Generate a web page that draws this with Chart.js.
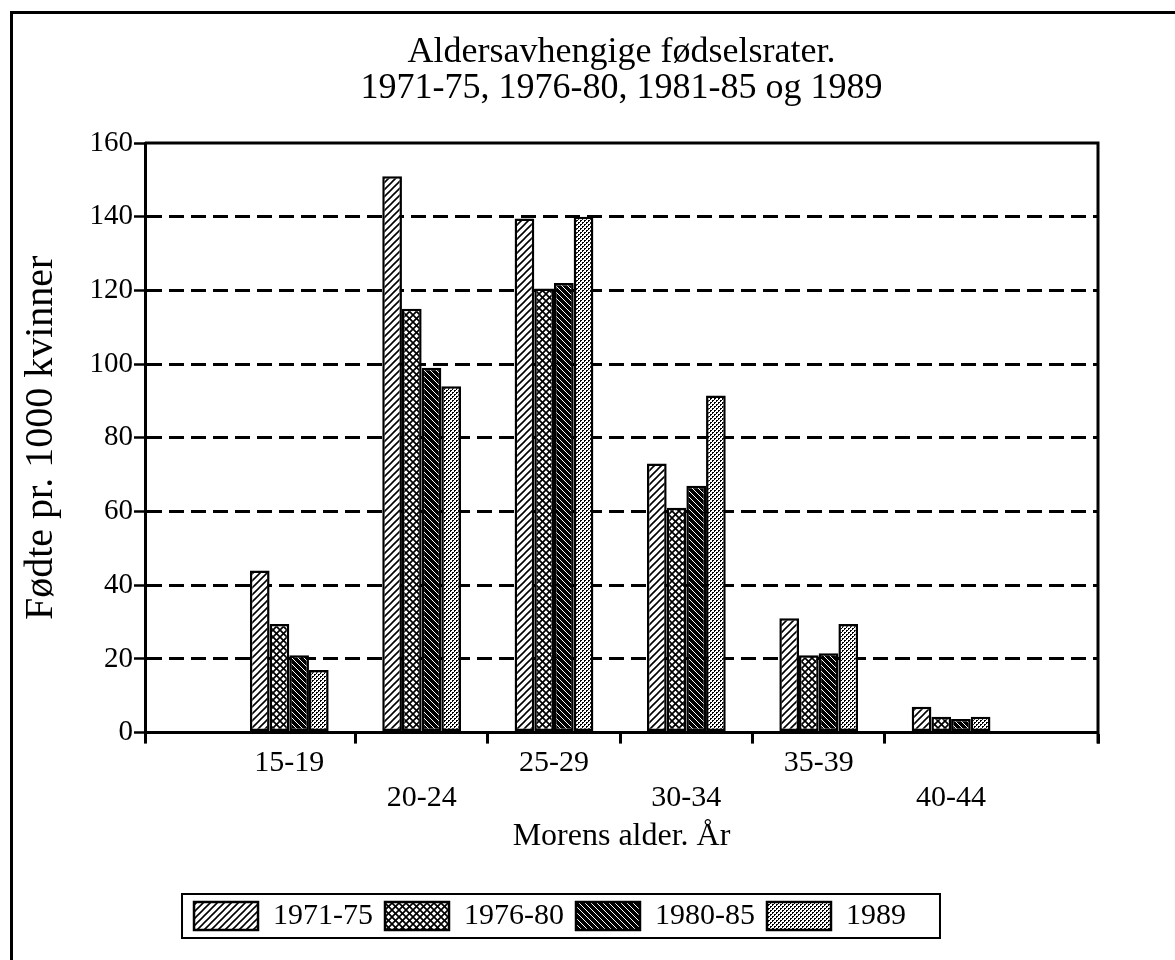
<!DOCTYPE html>
<html>
<head>
<meta charset="utf-8">
<script src="https://cdn.jsdelivr.net/npm/chart.js@4.4.0/dist/chart.umd.min.js"></script>
<style>
  html, body { margin: 0; padding: 0; background: #fff; }
</style>
</head>
<body>
<canvas id="chart" width="1175" height="960"></canvas>
<script>
const ageGroups = ['15-19', '20-24', '25-29', '30-34', '35-39', '40-44'];
const periods = ['1971-75', '1976-80', '1980-85', '1989'];
const rates7175 = [44, 151, 139.5, 73, 31, 7];
const rates7680 = [29.5, 115, 120.5, 61, 21, 4.3];
const rates8085 = [21, 99, 122, 67, 21.5, 3.7];
const rates89 = [17, 94, 140, 91.5, 29.5, 4.3];
const yMax = 160;
const yStep = 20;

const canvas = document.getElementById('chart');
const ctx = canvas.getContext('2d');

// small tiles for the black/white fill patterns
function makeTile(size, draw) {
  const t = document.createElement('canvas');
  t.width = size;
  t.height = size;
  const c = t.getContext('2d');
  draw(c, size);
  return ctx.createPattern(t, 'repeat');
}

function diag(c, s, up) {
  c.beginPath();
  if (up) {
    c.moveTo(0, s); c.lineTo(s, 0);
    c.moveTo(-1, 1); c.lineTo(1, -1);
    c.moveTo(s - 1, s + 1); c.lineTo(s + 1, s - 1);
  } else {
    c.moveTo(0, 0); c.lineTo(s, s);
    c.moveTo(s - 1, -1); c.lineTo(s + 1, 1);
    c.moveTo(-1, s - 1); c.lineTo(1, s + 1);
  }
  c.stroke();
}

const hatch = makeTile(7, (c, s) => {
  c.fillStyle = '#fff'; c.fillRect(0, 0, s, s);
  c.strokeStyle = '#000'; c.lineWidth = 1.6;
  diag(c, s, true);
});
const cross = makeTile(7, (c, s) => {
  c.fillStyle = '#fff'; c.fillRect(0, 0, s, s);
  c.strokeStyle = '#000'; c.lineWidth = 1.7;
  diag(c, s, true);
  diag(c, s, false);
});
const dark = makeTile(6, (c, s) => {
  c.fillStyle = '#000'; c.fillRect(0, 0, s, s);
  c.strokeStyle = '#fff'; c.lineWidth = 1;
  diag(c, s, false);
});
const dots = makeTile(4, (c, s) => {
  c.fillStyle = '#fff'; c.fillRect(0, 0, s, s);
  c.fillStyle = '#000';
  c.fillRect(0, 0, 2, 1); c.fillRect(0, 1, 1, 1);
  c.fillRect(2, 2, 2, 1); c.fillRect(2, 3, 1, 1);
});

const fills = [hatch, cross, dark, dots];
const series = [rates7175, rates7680, rates8085, rates89];

const xMin = -0.09;
const xMax = 7.11;

const framePlugin = {
  id: 'frame',
  beforeDraw(chart) {
    const c = chart.ctx;
    c.save();
    c.fillStyle = '#fff';
    c.fillRect(0, 0, chart.width, chart.height);
    c.restore();
  },
  afterDraw(chart) {
    const c = chart.ctx;
    const a = chart.chartArea;
    c.save();
    c.strokeStyle = '#000';
    c.lineWidth = 3;
    // outer border (only top and left visible)
    c.strokeRect(11.5, 12.5, chart.width + 20, chart.height + 20);
    // top and right side of the plot box
    c.beginPath();
    c.moveTo(a.left, a.top);
    c.lineTo(a.right, a.top);
    c.lineTo(a.right, a.bottom + 11);
    c.stroke();
    // box round the legend
    const hb = chart.legend.legendHitBoxes;
    if (hb && hb.length) {
      const l = Math.min(...hb.map(h => h.left));
      const r = Math.max(...hb.map(h => h.left + h.width));
      const t = Math.min(...hb.map(h => h.top));
      const b = Math.max(...hb.map(h => h.top + h.height));
      c.lineWidth = 2;
      c.strokeRect(l - 12, t - 7, r - l + 46, b - t + 14);
    }
    c.restore();
  }
};

Chart.defaults.font.family = "'Liberation Serif', 'Times New Roman', serif";
Chart.defaults.color = '#000';

new Chart(ctx, {
  type: 'bar',
  data: {
    datasets: periods.map((p, k) => ({
      label: p,
      data: series[k].map((v, i) => ({ x: i + 1, y: v })),
      backgroundColor: fills[k],
      borderColor: '#000',
      borderWidth: 2.5,
      borderSkipped: false,
      categoryPercentage: 1.19,
      barPercentage: 1
    }))
  },
  options: {
    responsive: false,
    animation: false,
    layout: { padding: { left: 2, right: 77, top: 0, bottom: 19 } },
    plugins: {
      tooltip: { enabled: false },
      title: {
        display: true,
        fullSize: false,
        text: ['Aldersavhengige fødselsrater.', '1971-75, 1976-80, 1981-85 og 1989'],
        font: { size: 36, weight: 'normal', lineHeight: 1 },
        padding: { top: 35, bottom: 36 }
      },
      legend: {
        position: 'bottom',
        labels: {
          font: { size: 30 },
          boxWidth: 64,
          boxHeight: 28,
          padding: 12
        }
      }
    },
    scales: {
      x: {
        type: 'linear',
        offset: false,
        min: xMin,
        max: xMax,
        afterBuildTicks(scale) {
          const t = [{ value: xMin }];
          ageGroups.forEach((g, i) => {
            t.push({ value: i + 1 });
            if (i < ageGroups.length - 1) t.push({ value: i + 1.5 });
          });
          t.push({ value: xMax });
          scale.ticks = t;
        },
        ticks: {
          autoSkip: false,
          maxRotation: 0,
          padding: 2,
          font: { size: 30, lineHeight: 1.17 },
          callback(value) {
            if (!Number.isInteger(value) || value < 1) return '';
            const i = value - 1;
            return i % 2 === 0 ? ageGroups[i] : ['', ageGroups[i]];
          }
        },
        grid: {
          offset: false,
          drawOnChartArea: false,
          tickLength: 11,
          tickWidth: 3,
          tickColor: (c) => (c.tick && Number.isInteger(c.tick.value)) ? 'rgba(0,0,0,0)' : '#000'
        },
        border: { color: '#000', width: 3 },
        title: {
          display: true,
          text: 'Morens alder. År',
          font: { size: 32, lineHeight: 1.1 },
          padding: { top: 1, bottom: 35 }
        }
      },
      y: {
        min: 0,
        max: yMax,
        afterFit(scale) { scale.width = 143; },
        ticks: {
          stepSize: yStep,
          padding: 1,
          font: { size: 29 }
        },
        grid: {
          lineWidth: 3,
          color: (c) => (c.tick && (c.tick.value === 0 || c.tick.value === yMax)) ? 'rgba(0,0,0,0)' : '#000',
          tickColor: '#000',
          tickLength: 11,
          tickWidth: 2.5
        },
        border: { color: '#000', width: 3, dash: [15, 7] },
        title: {
          display: true,
          text: 'Fødte pr. 1000 kvinner',
          font: { size: 40, lineHeight: 1 },
          padding: { top: 19, bottom: 0 }
        }
      }
    }
  },
  plugins: [framePlugin]
});
</script>
</body>
</html>
